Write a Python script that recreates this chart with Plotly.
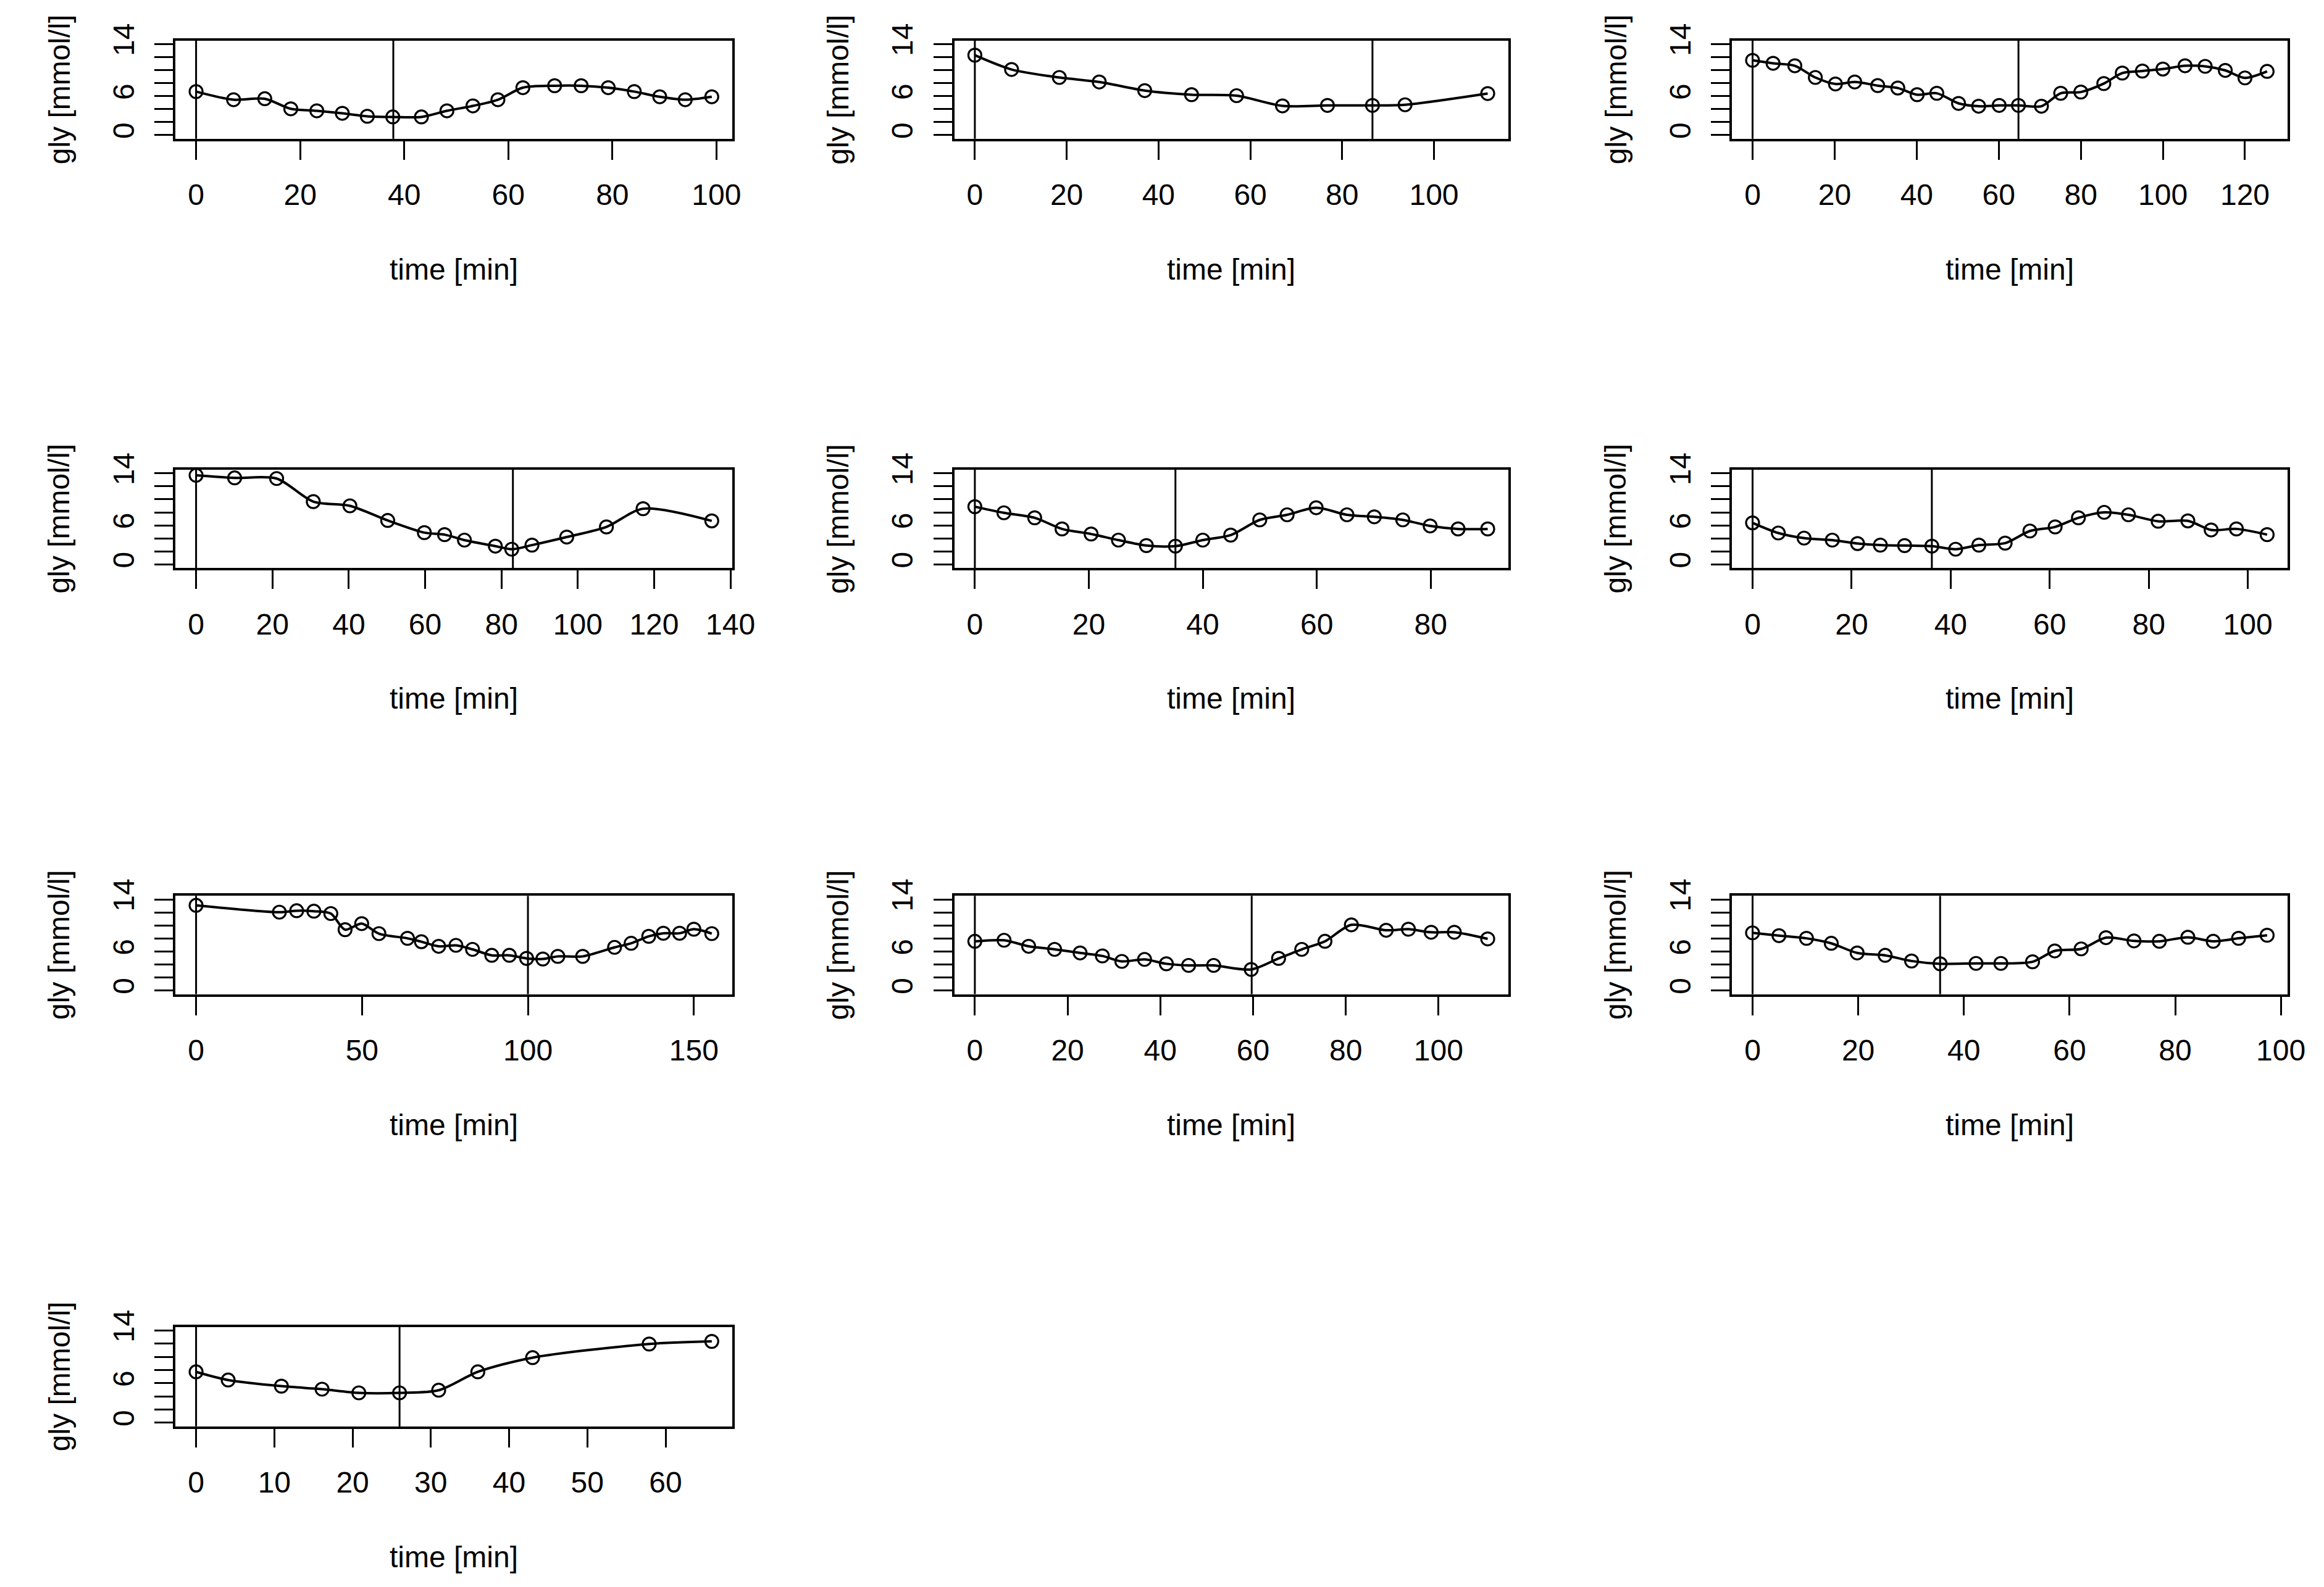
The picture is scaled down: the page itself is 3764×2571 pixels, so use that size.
import plotly.graph_objects as go

# ---- data: time [min] and glycaemia [mmol/l] per subject ----
t1 = [0, 7.2, 13.2, 18.2, 23.2, 28.1, 32.9, 37.8, 43.3, 48.2, 53.2, 58.0, 62.8, 68.9, 74.0, 79.2, 84.2, 89.1, 94.0, 99.1]
g1 = [6.7, 5.45, 5.6, 4.05, 3.74, 3.36, 2.9, 2.8, 2.8, 3.74, 4.5, 5.45, 7.3, 7.6, 7.6, 7.3, 6.7, 5.9, 5.45, 5.9]

t2 = [0, 8.0, 18.4, 27.1, 37.0, 47.2, 57.0, 67.0, 76.8, 86.6, 93.7, 111.7]
g2 = [12.3, 10.1, 8.87, 8.18, 6.85, 6.22, 6.07, 4.5, 4.57, 4.57, 4.67, 6.4]

t3 = [0, 5.0, 10.3, 15.3, 20.2, 24.9, 30.5, 35.4, 40.1, 44.9, 50.2, 55.1, 60.1, 64.8, 70.4, 75.1, 80.0, 85.6, 90.1, 95.0, 100.0, 105.4, 110.3, 115.2, 120.0, 125.4]
g3 = [11.5, 11.05, 10.67, 8.87, 7.87, 8.18, 7.62, 7.25, 6.22, 6.44, 4.88, 4.45, 4.57, 4.57, 4.45, 6.44, 6.63, 7.93, 9.55, 9.86, 10.17, 10.67, 10.58, 9.96, 8.8, 9.8]

t4 = [0, 10.1, 21.1, 30.7, 40.3, 50.2, 59.8, 65.1, 70.3, 78.4, 82.7, 88.0, 97.1, 107.5, 117.1, 135.1]
g4 = [13.7, 13.3, 13.2, 9.65, 9.0, 6.75, 4.88, 4.57, 3.73, 2.8, 2.33, 2.96, 4.2, 5.76, 8.56, 6.69]

t5 = [0, 5.1, 10.5, 15.3, 20.4, 25.2, 30.1, 35.2, 40.0, 44.9, 50.0, 54.8, 59.9, 65.3, 70.1, 75.1, 79.9, 84.8, 90.0]
g5 = [8.87, 7.93, 7.16, 5.45, 4.67, 3.73, 2.89, 2.8, 3.73, 4.5, 6.84, 7.62, 8.71, 7.62, 7.31, 6.84, 5.91, 5.45, 5.45]

t6 = [0, 5.2, 10.4, 16.1, 21.2, 25.8, 30.7, 36.2, 41.0, 45.7, 51.0, 56.0, 61.1, 65.8, 71.0, 75.9, 81.9, 87.9, 92.6, 97.7, 103.9]
g6 = [6.38, 4.82, 4.04, 3.73, 3.2, 2.96, 2.89, 2.8, 2.33, 2.96, 3.27, 5.13, 5.76, 7.16, 8.0, 7.62, 6.63, 6.69, 5.29, 5.45, 4.57]

t7 = [0, 25.1, 30.3, 35.5, 40.6, 44.9, 49.9, 55.1, 63.7, 67.9, 73.1, 78.3, 83.3, 89.1, 94.4, 99.6, 104.5, 109.0, 116.5, 126.1, 131.1, 136.4, 140.8, 145.7, 150.0, 155.4]
g7 = [13.1, 12.05, 12.27, 12.2, 11.84, 9.36, 10.29, 8.75, 8.03, 7.51, 6.8, 6.95, 6.33, 5.41, 5.41, 4.94, 4.85, 5.25, 5.25, 6.64, 7.26, 8.34, 8.81, 8.81, 9.43, 8.75]

t8 = [0, 6.3, 11.6, 17.2, 22.7, 27.5, 31.7, 36.6, 41.3, 46.1, 51.5, 59.6, 65.5, 70.5, 75.5, 81.2, 88.7, 93.5, 98.4, 103.4, 110.6]
g8 = [7.57, 7.73, 6.8, 6.33, 5.78, 5.32, 4.48, 4.79, 4.11, 3.86, 3.86, 3.24, 4.94, 6.33, 7.57, 10.1, 9.27, 9.43, 8.96, 8.96, 7.94]

t9 = [0, 5.0, 10.2, 14.9, 19.8, 25.1, 30.1, 35.5, 42.3, 47.0, 53.0, 57.2, 62.2, 66.9, 72.2, 77.0, 82.4, 87.2, 92.0, 97.4]
g9 = [8.87, 8.44, 8.03, 7.26, 5.78, 5.41, 4.54, 4.11, 4.17, 4.17, 4.42, 6.09, 6.4, 8.13, 7.63, 7.57, 8.19, 7.57, 8.03, 8.5]

t10 = [0, 4.1, 10.9, 16.1, 20.8, 26.0, 31.0, 36.0, 43.0, 57.9, 65.9]
g10 = [7.73, 6.49, 5.56, 5.1, 4.54, 4.54, 4.94, 7.73, 9.89, 11.96, 12.36]

# vertical reference lines: start time and nadir time per subject
start_times = [0, 0, 0, 0, 0, 0, 0, 0, 0, 0]
nadir_times = [37.9, 86.6, 64.8, 83.0, 35.2, 36.2, 100.0, 59.7, 35.5, 26.0]

# tick labels
x_ticks = [
    [0, 20, 40, 60, 80, 100],
    [0, 20, 40, 60, 80, 100],
    [0, 20, 40, 60, 80, 100, 120],
    [0, 20, 40, 60, 80, 100, 120, 140],
    [0, 20, 40, 60, 80],
    [0, 20, 40, 60, 80, 100],
    [0, 50, 100, 150],
    [0, 20, 40, 60, 80, 100],
    [0, 20, 40, 60, 80, 100],
    [0, 10, 20, 30, 40, 50, 60],
]
y_ticks = [0, 2, 4, 6, 8, 10, 12, 14]
y_tick_text = ["0", "", "", "6", "", "", "", "14"]
y_lim = [0, 14]

x_title = "time [min]"
y_title = "gly [mmol/l]"

times = [t1, t2, t3, t4, t5, t6, t7, t8, t9, t10]
glys = [g1, g2, g3, g4, g5, g6, g7, g8, g9, g10]

# ---- layout geometry (pixels of the 3764x2571 page) ----
W, H = 3764, 2571
col_l = [287, 1561, 2833]
col_r = [1198, 2467, 3742]
row_t = [38, 741, 1439, 2145]
row_b = [199, 902, 1600, 2308]

FONT = "Liberation Sans, Arial, sans-serif"
FS = 48

fig = go.Figure()
shapes = []
annotations = []
layout = {}

for i, (tt, gg) in enumerate(zip(times, glys)):
    n = i + 1
    r, c = divmod(i, 3)
    xa = "x" if n == 1 else f"x{n}"
    ya = "y" if n == 1 else f"y{n}"
    xkey = "xaxis" if n == 1 else f"xaxis{n}"
    ykey = "yaxis" if n == 1 else f"yaxis{n}"

    fig.add_trace(go.Scatter(
        x=tt, y=gg, xaxis=xa, yaxis=ya, mode="lines+markers",
        line=dict(color="black", width=4, shape="spline", smoothing=0.8),
        marker=dict(symbol="circle-open", size=21, color="black", line=dict(width=3.2)),
        showlegend=False, hoverinfo="x+y",
    ))

    xmin, xmax = min(tt), max(tt)
    span = xmax - xmin
    xr = [xmin - 0.04 * span, xmax + 0.04 * span]
    yspan = y_lim[1] - y_lim[0]
    yr = [y_lim[0] - 0.04 * yspan, y_lim[1] + 0.04 * yspan]

    xd = [col_l[c] / W, col_r[c] / W]
    yd = [1 - row_b[r] / H, 1 - row_t[r] / H]

    common = dict(
        showline=True, mirror=True, linecolor="black", linewidth=4,
        ticks="outside", ticklen=30, tickwidth=3, tickcolor="black",
        showgrid=False, zeroline=False, fixedrange=True,
        tickfont=dict(family=FONT, size=FS, color="black"),
    )
    layout[xkey] = dict(domain=xd, anchor=ya, range=xr,
                        tickmode="array", tickvals=x_ticks[i],
                        ticklabelstandoff=16, **common)
    layout[ykey] = dict(domain=yd, anchor=xa, range=yr,
                        tickmode="array", tickvals=y_ticks, ticktext=y_tick_text,
                        tickangle=-90, ticklabelstandoff=14, **common)

    for xv in (start_times[i], nadir_times[i]):
        shapes.append(dict(type="line", xref=xa, yref=f"{ya} domain",
                           x0=xv, x1=xv, y0=0, y1=1,
                           line=dict(color="black", width=3)))

    # axis titles
    annotations.append(dict(
        text=x_title, xref="paper", yref="paper",
        x=(col_l[c] + col_r[c]) / 2 / W, y=1 - (row_b[r] + 214) / H,
        xanchor="center", yanchor="middle", showarrow=False,
        font=dict(family=FONT, size=FS, color="black")))
    annotations.append(dict(
        text=y_title, xref="paper", yref="paper",
        x=(col_l[c] - 190) / W, y=1 - (row_t[r] + row_b[r]) / 2 / H,
        xanchor="center", yanchor="middle", textangle=-90, showarrow=False,
        font=dict(family=FONT, size=FS, color="black")))

fig.update_layout(
    width=W, height=H,
    margin=dict(l=0, r=0, t=0, b=0),
    paper_bgcolor="white", plot_bgcolor="white",
    shapes=shapes, annotations=annotations,
    font=dict(family=FONT, size=FS, color="black"),
    **layout,
)

fig.write_html(
    "out.html",
    config={"displayModeBar": False},
    post_script="document.body.style.margin='0';document.body.style.padding='0';"
                "document.body.style.overflow='hidden';",
)
